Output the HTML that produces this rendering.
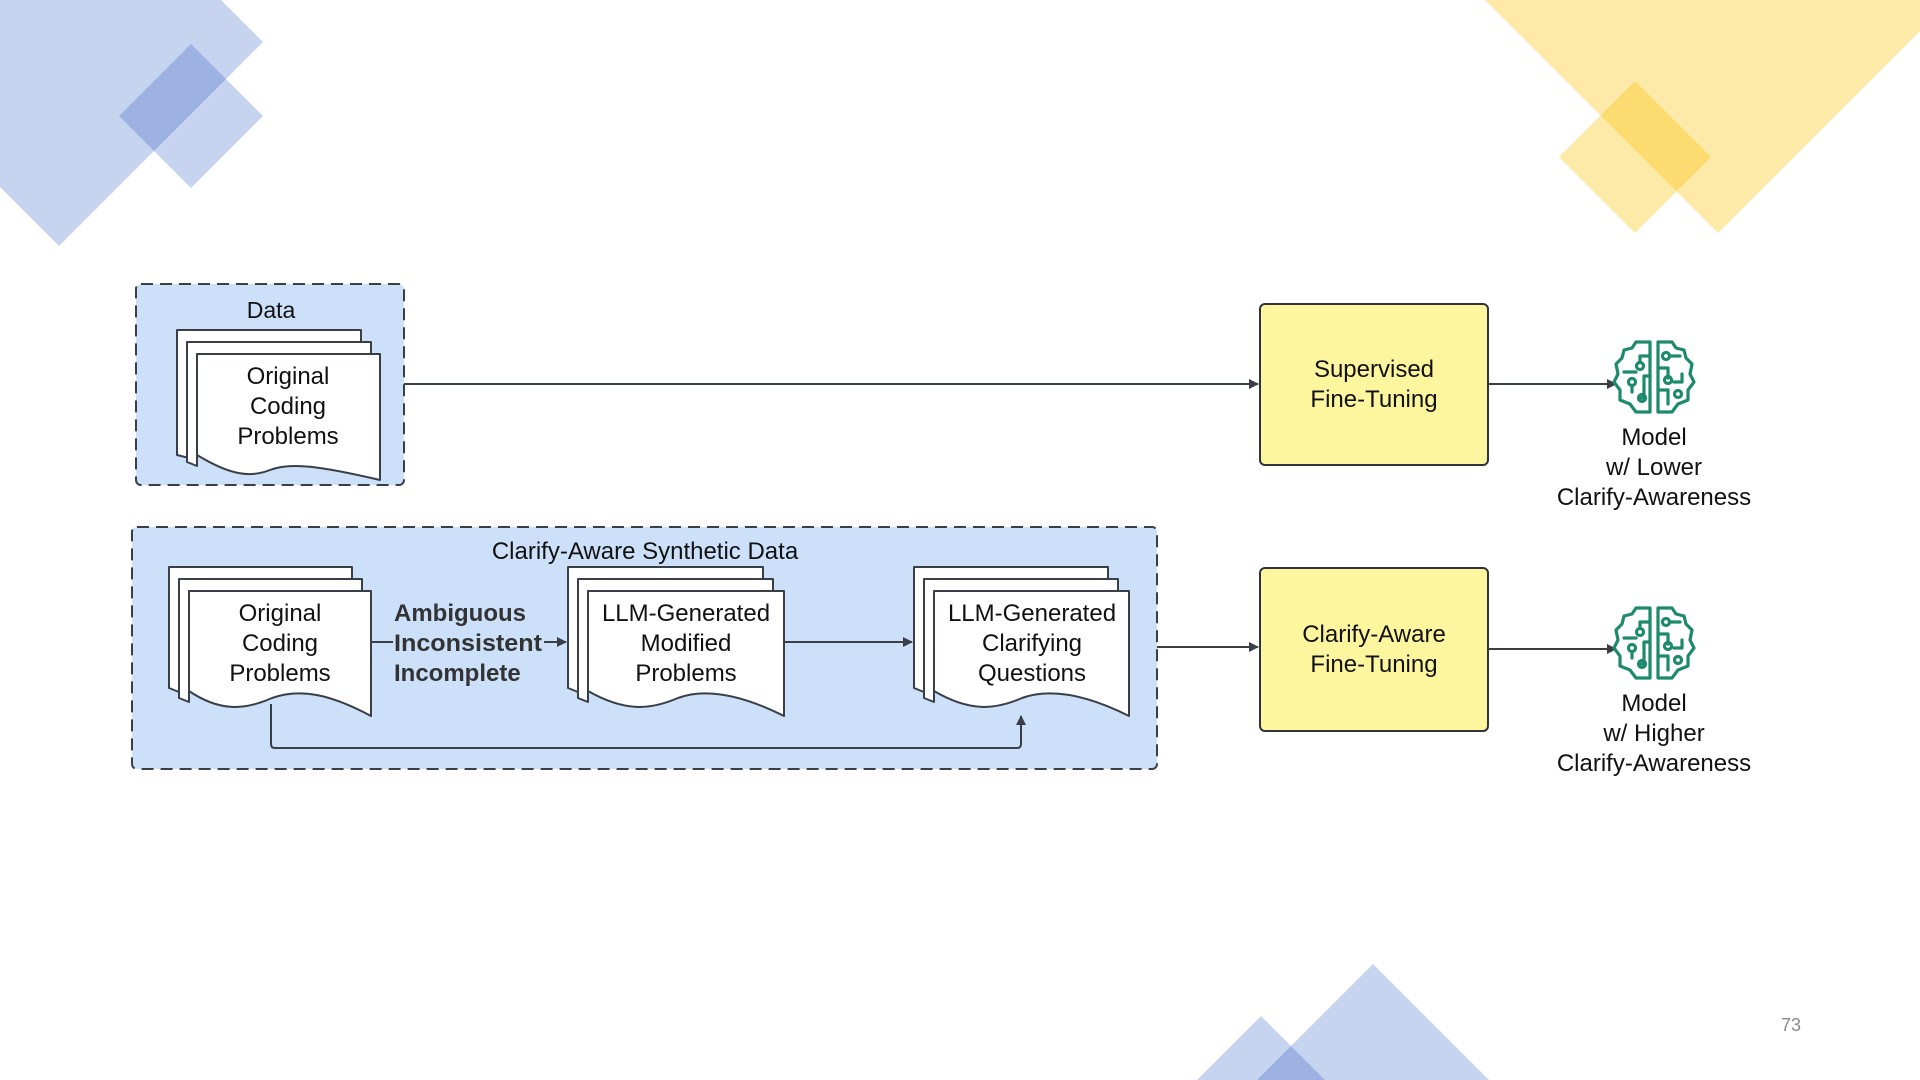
<!DOCTYPE html>
<html><head><meta charset="utf-8"><style>
html,body{margin:0;padding:0;background:#fff;width:1920px;height:1080px;overflow:hidden;}
svg{display:block;}
text{font-family:"Liberation Sans",sans-serif;fill:#111;}
</style></head><body>
<svg width="1920" height="1080" viewBox="0 0 1920 1080" xmlns="http://www.w3.org/2000/svg">
<defs>
<marker id="ah" markerWidth="10" markerHeight="10" refX="9" refY="5" orient="auto" markerUnits="userSpaceOnUse">
<path d="M0,0 L10,5 L0,10 Z" fill="#3a3f47"/></marker>
<g id="brain" fill="none" stroke="#1d8a6c" stroke-width="3.2" stroke-linejoin="round" stroke-linecap="round">
<path d="M-4,-34 L-18,-34 L-22,-28 L-30,-26 L-32,-18 L-38,-12 L-36,-2 L-40,6 L-34,14 L-34,24 L-24,28 L-18,36 L-4,36 Z"/>
<path d="M4,-34 L18,-34 L22,-28 L30,-26 L32,-18 L38,-12 L36,-2 L40,6 L34,14 L34,24 L24,28 L18,36 L4,36 Z"/>
<path d="M-4,-20 L-14,-20 L-14,-14"/><circle cx="-14" cy="-10" r="3.5"/>
<path d="M-30,-4 L-18,-4"/><circle cx="-22" cy="6" r="3.5"/><path d="M-22,10 L-22,16"/>
<path d="M-4,0 L-10,0 L-10,22 L-14,22"/><circle cx="-12" cy="22" r="3.5"/>
<circle cx="12" cy="-20" r="3.5"/><path d="M16,-20 L26,-20"/>
<path d="M4,-8 L14,-8 L14,2"/><circle cx="14" cy="4" r="3.5"/>
<path d="M20,6 L28,6 L28,-2"/><path d="M4,14 L14,14 L14,28"/><circle cx="24" cy="18" r="3.5"/>
</g>
<clipPath id="c1"><polygon points="0,0 221,0 263,42 59,246 0,187"/></clipPath>
<clipPath id="c2"><polygon points="1485,0 1920,0 1920,31 1718,233"/></clipPath>
<clipPath id="c3"><polygon points="1373,964 1489,1080 1257,1080"/></clipPath>
</defs>
<polygon points="0,0 221,0 263,42 59,246 0,187" fill="#c7d4ef"/>
<polygon points="191,44 263,116 191,188 119,116" fill="#c7d4ef"/>
<polygon points="191,44 263,116 191,188 119,116" fill="#9db2e2" clip-path="url(#c1)"/>
<polygon points="1485,0 1920,0 1920,31 1718,233" fill="#fdeaa8"/>
<polygon points="1635,81 1711,157 1635,233 1559,157" fill="#fdeaa8"/>
<polygon points="1635,81 1711,157 1635,233 1559,157" fill="#fcdb70" clip-path="url(#c2)"/>
<polygon points="1373,964 1489,1080 1257,1080" fill="#c7d4ef"/>
<polygon points="1261,1016 1325,1080 1197,1080" fill="#c7d4ef"/>
<polygon points="1261,1016 1325,1080 1197,1080" fill="#9db2e2" clip-path="url(#c3)"/>
<text x="1791" y="1031" font-size="18" text-anchor="middle" style="fill:#8a8a8a">73</text>

<rect x="136" y="284" width="268" height="201" rx="5" fill="#cde0fa" stroke="#3a3f47" stroke-width="2" stroke-dasharray="12,7"/>
<text x="271" y="318" font-size="23" text-anchor="middle">Data</text>
<g stroke="#3a3f47" stroke-width="2" fill="#fff" stroke-linejoin="round">
<path d="M177,330 H361 V356 H197 V460 L177,455 Z"/>
<path d="M187,342 H371 V354 H197 V466 L187,462 Z"/>
<path d="M197,354 H380 V480 C320,466 290,462 270,470 C250,478 230,475 197,455 Z"/>
</g>
<text font-size="24" text-anchor="middle"><tspan x="288" y="384">Original</tspan><tspan x="288" y="414">Coding</tspan><tspan x="288" y="444">Problems</tspan></text>

<line x1="404" y1="384" x2="1258" y2="384" stroke="#3a3f47" stroke-width="2" marker-end="url(#ah)"/>
<rect x="1260" y="304" width="228" height="161" rx="5" fill="#fdf69e" stroke="#2f333a" stroke-width="2"/>
<text font-size="24" text-anchor="middle"><tspan x="1374" y="377">Supervised</tspan><tspan x="1374" y="407">Fine-Tuning</tspan></text>
<line x1="1488" y1="384" x2="1616" y2="384" stroke="#3a3f47" stroke-width="2" marker-end="url(#ah)"/>
<use href="#brain" x="1654" y="376"/>
<text font-size="24" text-anchor="middle"><tspan x="1654" y="445">Model</tspan><tspan x="1654" y="475">w/ Lower</tspan><tspan x="1654" y="505">Clarify-Awareness</tspan></text>

<rect x="132" y="527" width="1025" height="242" rx="5" fill="#cde0fa" stroke="#3a3f47" stroke-width="2" stroke-dasharray="12,7"/>
<text x="645" y="559" font-size="24" text-anchor="middle">Clarify-Aware Synthetic Data</text>

<g stroke="#3a3f47" stroke-width="2" fill="#fff" stroke-linejoin="round">
<path d="M169,567 H352 V591 H189 V696 L169,688 Z"/>
<path d="M179,579 H362 V591 H189 V702 L179,698 Z"/>
<path d="M189,591 H371 V716 C330,694 300,688 272,698 C245,710 220,712 189,691 Z"/>
<path d="M568,567 H763 V591 H588 V696 L568,688 Z"/>
<path d="M578,579 H773 V591 H588 V702 L578,698 Z"/>
<path d="M588,591 H784 V716 C740,694 705,688 678,698 C650,710 625,712 588,691 Z"/>
<path d="M914,567 H1108 V591 H934 V696 L914,688 Z"/>
<path d="M924,579 H1118 V591 H934 V702 L924,698 Z"/>
<path d="M934,591 H1129 V716 C1085,694 1050,688 1022,698 C995,710 970,712 934,691 Z"/>
</g>
<text font-size="24" text-anchor="middle"><tspan x="280" y="621">Original</tspan><tspan x="280" y="651">Coding</tspan><tspan x="280" y="681">Problems</tspan></text>
<text font-size="24" text-anchor="middle"><tspan x="686" y="621">LLM-Generated</tspan><tspan x="686" y="651">Modified</tspan><tspan x="686" y="681">Problems</tspan></text>
<text font-size="24" text-anchor="middle"><tspan x="1032" y="621">LLM-Generated</tspan><tspan x="1032" y="651">Clarifying</tspan><tspan x="1032" y="681">Questions</tspan></text>

<line x1="371" y1="642" x2="393" y2="642" stroke="#3a3f47" stroke-width="2"/>
<line x1="544" y1="642" x2="566" y2="642" stroke="#3a3f47" stroke-width="2" marker-end="url(#ah)"/>
<text font-size="24" font-weight="bold" style="fill:#333"><tspan x="394" y="621">Ambiguous</tspan><tspan x="394" y="651" textLength="148" lengthAdjust="spacingAndGlyphs">Inconsistent</tspan><tspan x="394" y="681">Incomplete</tspan></text>
<line x1="784" y1="642" x2="912" y2="642" stroke="#3a3f47" stroke-width="2" marker-end="url(#ah)"/>
<path d="M271,704 V744 Q271,748 275,748 H1017 Q1021,748 1021,744 V716" fill="none" stroke="#3a3f47" stroke-width="2" marker-end="url(#ah)"/>

<line x1="1157" y1="647" x2="1258" y2="647" stroke="#3a3f47" stroke-width="2" marker-end="url(#ah)"/>
<rect x="1260" y="568" width="228" height="163" rx="5" fill="#fdf69e" stroke="#2f333a" stroke-width="2"/>
<text font-size="24" text-anchor="middle"><tspan x="1374" y="642">Clarify-Aware</tspan><tspan x="1374" y="672">Fine-Tuning</tspan></text>
<line x1="1488" y1="649" x2="1616" y2="649" stroke="#3a3f47" stroke-width="2" marker-end="url(#ah)"/>
<use href="#brain" x="1654" y="642"/>
<text font-size="24" text-anchor="middle"><tspan x="1654" y="711">Model</tspan><tspan x="1654" y="741">w/ Higher</tspan><tspan x="1654" y="771">Clarify-Awareness</tspan></text>
</svg>
</body></html>
